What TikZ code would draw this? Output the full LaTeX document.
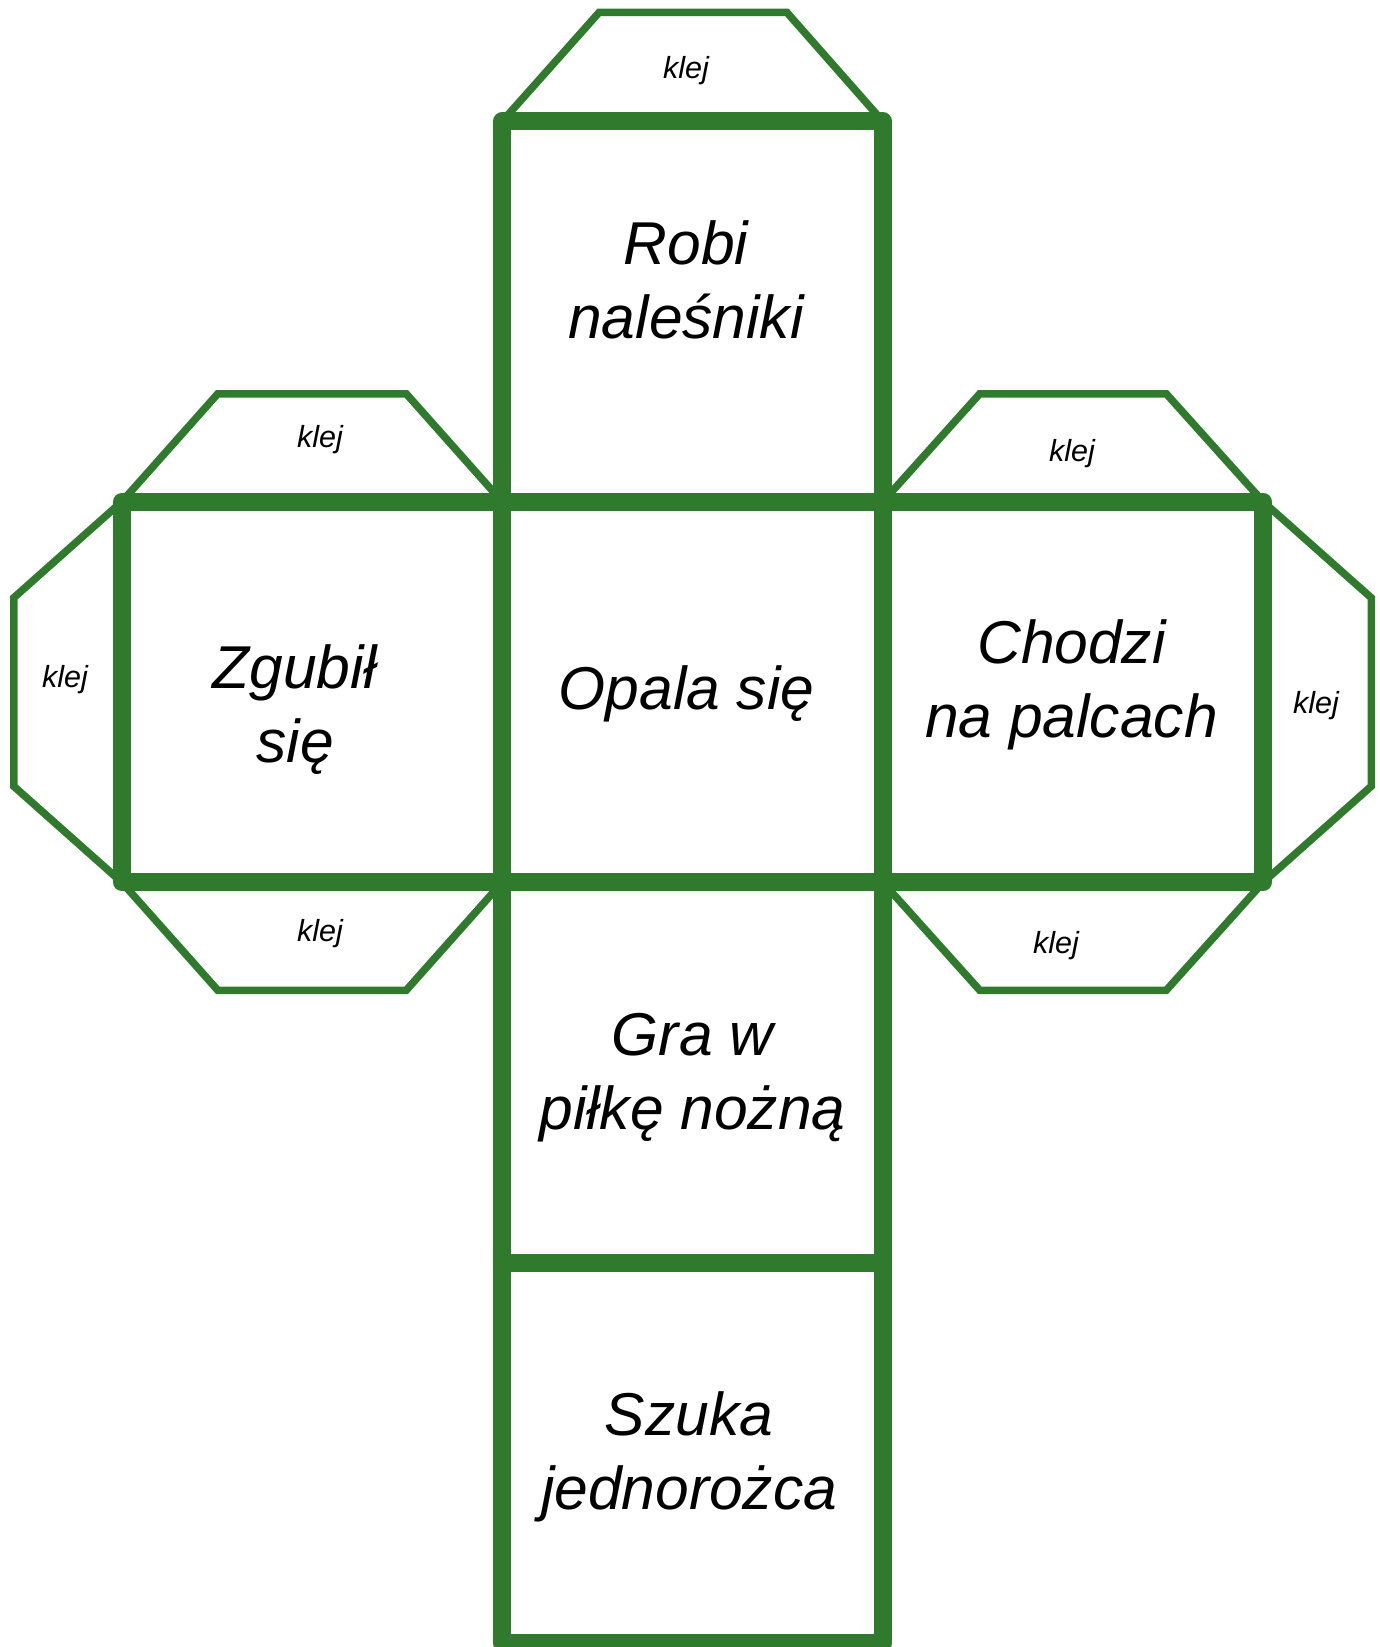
\documentclass[tikz,border=0pt]{standalone}
\usepackage{fontspec}
\setmainfont{Liberation Sans}
\usepackage{tikz}
\usetikzlibrary{positioning}

\definecolor{netgreen}{RGB}{47,122,45}

\begin{document}
\begin{tikzpicture} [x=1pt, y=-1pt, node distance = 380.5pt, on grid,
    face/.style = {draw=netgreen, line width=18pt, minimum size=380.5pt, inner sep=0pt, outer sep=0pt, line join=round},
    flap/.style = {draw=netgreen, line width=7.5pt},
    facetext/.style = {font=\fontsize{60.5}{74}\selectfont\itshape, align=center, inner sep=0pt},
    glue/.style = {font=\fontsize{30.5}{36}\selectfont\itshape, inner sep=0pt}]
    \useasboundingbox (0,0) rectangle (1380,1647);

    \node (mid) [face] at (692.5,692) {};
    \node (top) [face, above = of mid] {};
    \node (left) [face, left = of mid] {};
    \node (right) [face, right = of mid] {};
    \node (below) [face, below = of mid] {};
    \node (bottom) [face, below = of below] {};

    % flaps
    \draw[flap] (top.north west) -- ([xshift=97pt, yshift=109pt]top.north west) -- ([xshift=-96pt, yshift=109pt]top.north east) -- (top.north east);
    \draw[flap] (left.north west) -- ([xshift=96pt, yshift=108pt]left.north west) -- ([xshift=-96pt, yshift=108pt]left.north east) -- (left.north east);
    \draw[flap] (left.south west) -- ([xshift=96pt, yshift=-108pt]left.south west) -- ([xshift=-96pt, yshift=-108pt]left.south east) -- (left.south east);
    \draw[flap] (left.north west) -- ([xshift=-108pt, yshift=-96pt]left.north west) -- ([xshift=-108pt, yshift=96pt]left.south west) -- (left.south west);
    \draw[flap] (right.north west) -- ([xshift=97pt, yshift=108pt]right.north west) -- ([xshift=-97pt, yshift=108pt]right.north east) -- (right.north east);
    \draw[flap] (right.south west) -- ([xshift=97pt, yshift=-108pt]right.south west) -- ([xshift=-97pt, yshift=-108pt]right.south east) -- (right.south east);
    \draw[flap] (right.north east) -- ([xshift=108pt, yshift=-96pt]right.north east) -- ([xshift=108pt, yshift=96pt]right.south east) -- (right.south east);

    \node (robi) [facetext, xshift=-6.5pt, yshift=32pt] at (top) {Robi\\naleśniki};
    \node (zgubil) [facetext, xshift=-17pt, yshift=-18pt] at (left) {Zgubił\\się};
    \node (opala) [facetext, xshift=-6pt, yshift=-2pt] at (mid) {Opala się};
    \node (chodzi) [facetext, xshift=-1.5pt, yshift=7pt] at (right) {Chodzi\\na palcach};
    \node (gra) [facetext, xshift=0pt, yshift=-5.5pt] at (below) {Gra w\\piłkę nożną};
    \node (szuka) [facetext, xshift=-3.5pt, yshift=-4pt] at (bottom) {Szuka\\jednorożca};

    \node (klej-top) [glue] at (686,71) {klej};
    \node (klej-lt) [glue] at (320,440) {klej};
    \node (klej-ls) [glue] at (65,680) {klej};
    \node (klej-lb) [glue] at (320,934) {klej};
    \node (klej-rt) [glue] at (1072,454) {klej};
    \node (klej-rs) [glue] at (1316,706) {klej};
    \node (klej-rb) [glue] at (1056,946) {klej};
\end{tikzpicture}
\end{document}
